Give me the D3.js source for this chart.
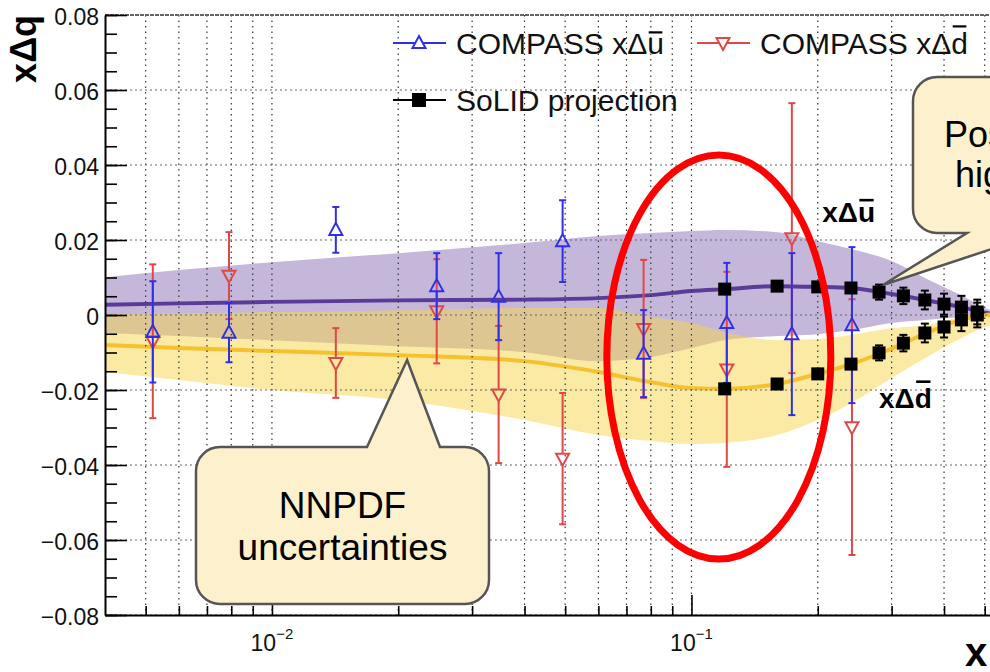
<!DOCTYPE html>
<html>
<head>
<meta charset="utf-8">
<script src="https://cdn.jsdelivr.net/npm/d3@7"></script>
<style>
  html, body { margin: 0; padding: 0; background: #fff; overflow: hidden; }
  svg { display: block; font-family: "Liberation Sans", Arial, Helvetica, sans-serif; }
</style>
</head>
<body>
<div id="chart"></div>
<script>
// NNPDF bands (x grid, central value, upper and lower edge)
const nnX     = [0.004, 0.006, 0.01, 0.02, 0.04, 0.06, 0.08, 0.1, 0.12, 0.16, 0.2, 0.24, 0.3, 0.36, 0.44, 0.52, 0.7];
const ubarMid = [0.0027, 0.0031, 0.0035, 0.0039, 0.0041, 0.0045, 0.0053, 0.0064, 0.0069, 0.0077, 0.0075, 0.0072, 0.0056, 0.0040, 0.0021, 0.0003, -0.0006];
const ubarHi  = [0.0101, 0.0120, 0.0141, 0.0165, 0.0192, 0.0211, 0.0219, 0.0224, 0.0227, 0.0221, 0.0197, 0.0176, 0.0144, 0.0099, 0.0053, 0.0013, 0.0000];
const ubarLo  = [-0.0048, -0.0056, -0.0067, -0.0083, -0.0099, -0.0123, -0.0112, -0.0088, -0.0067, -0.0056, -0.0051, -0.0040, -0.0021, -0.0013, -0.0005, 0.0000, -0.0012];
const dbarMid = [-0.0080, -0.0088, -0.0096, -0.0107, -0.0123, -0.0152, -0.0179, -0.0195, -0.0197, -0.0184, -0.0157, -0.0131, -0.0090, -0.0050, -0.0013, 0.0002, 0.0008];
const dbarHi  = [0.0003, 0.0005, 0.0008, 0.0013, 0.0019, 0.0019, -0.0005, -0.0021, -0.0045, -0.0067, -0.0064, -0.0053, -0.0035, -0.0027, -0.0005, 0.0010, 0.0020];
const dbarLo  = [-0.0152, -0.0173, -0.0200, -0.0227, -0.0280, -0.0320, -0.0336, -0.0344, -0.0341, -0.0320, -0.0280, -0.0235, -0.0168, -0.0115, -0.0061, -0.0027, -0.0010];

// COMPASS points
const cmpX    = [0.0052, 0.0079, 0.0142, 0.0247, 0.0347, 0.0493, 0.0769, 0.1214, 0.1735, 0.2413];
const ubarVal = [-0.0045, -0.0047, 0.0227, 0.0077, 0.0049, 0.0197, -0.0103, -0.0021, -0.0051, -0.0027];
const ubarErr = [0.0135, 0.0079, 0.0061, 0.0088, 0.0116, 0.0109, 0.0116, 0.0160, 0.0216, 0.0208];
const dbarVal = [-0.0070, 0.0105, -0.0128, 0.0010, -0.0212, -0.0383, -0.0037, -0.0145, 0.0205, -0.0299];
const dbarErr = [0.0205, 0.0116, 0.0093, 0.0139, 0.0183, 0.0175, 0.0184, 0.0260, 0.0360, 0.0341];

// SoLID projection
const solidX   = [0.12, 0.16, 0.2, 0.24, 0.28, 0.32, 0.36, 0.40, 0.44, 0.48];
const solidU   = [0.0069, 0.0077, 0.0075, 0.0072, 0.0061, 0.0051, 0.0040, 0.0029, 0.0021, 0.0008];
const solidD   = [-0.0197, -0.0184, -0.0157, -0.0131, -0.0101, -0.0075, -0.0048, -0.0032, -0.0013, 0.0000];
const solidErr = [0.0008, 0.0008, 0.0010, 0.0013, 0.0020, 0.0022, 0.0025, 0.0028, 0.0030, 0.0033];

// ticks
const yTicks = [-0.08, -0.06, -0.04, -0.02, 0, 0.02, 0.04, 0.06, 0.08];
const yTickLabels = ['\u22120.08', '\u22120.06', '\u22120.04', '\u22120.02', '0', '0.02', '0.04', '0.06', '0.08'];
const yMinor = d3.range(-0.08, 0.0801, 0.005);
const xTicks = [0.01, 0.1];
const xTickExp = ['\u22122', '\u22121'];
const xMinor = [0.005, 0.006, 0.007, 0.008, 0.009, 0.02, 0.03, 0.04, 0.05, 0.06, 0.07, 0.08, 0.09, 0.2, 0.3, 0.4, 0.5, 0.6];

const width = 990, height = 672;
const blue = '#2f2fe8', red = '#e04848';

const svg = d3.select('#chart').append('svg')
  .attr('width', width)
  .attr('height', height)
  .attr('viewBox', [0, 0, width, height]);

const x = d3.scaleLog().domain([0.004, 0.7]).range([105, 1046]);
const y = d3.scaleLinear().domain([-0.08, 0.08]).range([615, 15]);

svg.append('clipPath').attr('id', 'plot')
  .append('rect').attr('x', 105).attr('y', 15).attr('width', 941).attr('height', 600);

const plot = svg.append('g').attr('clip-path', 'url(#plot)');

// bands
const band = (lo, hi) => d3.area()
  .x((d, i) => x(nnX[i]))
  .y0((d, i) => y(lo[i]))
  .y1((d, i) => y(hi[i]))
  .curve(d3.curveMonotoneX)(nnX);
const centre = vals => d3.line()
  .x((d, i) => x(nnX[i]))
  .y((d, i) => y(vals[i]))
  .curve(d3.curveMonotoneX)(nnX);

plot.append('path').attr('d', band(ubarLo, ubarHi)).attr('fill', '#c4b7da');
plot.append('path').attr('d', band(dbarLo, dbarHi)).attr('fill', 'rgb(246,214,72)').attr('fill-opacity', 0.5);
plot.append('path').attr('d', centre(ubarMid)).attr('fill', 'none').attr('stroke', '#5b3b98').attr('stroke-width', 4);
plot.append('path').attr('d', centre(dbarMid)).attr('fill', 'none').attr('stroke', '#f6c12e').attr('stroke-width', 4);

// grid
plot.selectAll('.vgrid')
  .data(xTicks.concat(xMinor))
  .enter().append('line')
  .attr('x1', d => x(d)).attr('x2', d => x(d))
  .attr('y1', 15).attr('y2', 615)
  .attr('stroke', '#333').attr('stroke-width', 1.2).attr('stroke-dasharray', '1.5,4');
plot.selectAll('.hgrid')
  .data(yTicks)
  .enter().append('line')
  .attr('x1', 105).attr('x2', 1046)
  .attr('y1', d => y(d)).attr('y2', d => y(d))
  .attr('stroke', '#666').attr('stroke-width', 1.2).attr('stroke-dasharray', '2,3');
svg.append('line').attr('x1', 105).attr('x2', width).attr('y1', 15).attr('y2', 15)
  .attr('stroke', '#666').attr('stroke-width', 2).attr('stroke-dasharray', '4,1');

// axes
const yAxis = svg.append('g').attr('transform', 'translate(105,0)')
  .call(d3.axisLeft(y).tickValues(yTicks).tickSizeInner(-22).tickSizeOuter(0).tickPadding(6)
    .tickFormat((d, i) => yTickLabels[i]));
svg.append('g').attr('transform', 'translate(105,0)')
  .call(d3.axisLeft(y).tickValues(yMinor).tickSizeInner(-12).tickSizeOuter(0).tickFormat(''))
  .select('.domain').remove();
yAxis.selectAll('text').attr('font-size', 23).attr('font-family', 'Liberation Sans, Arial, sans-serif')
  .attr('dy', '0.42em').attr('fill', '#111');

svg.append('g').attr('transform', 'translate(0,615)')
  .call(d3.axisBottom(x).tickValues(xTicks).tickSizeInner(-20).tickSizeOuter(0).tickFormat(''));
svg.append('g').attr('transform', 'translate(0,615)')
  .call(d3.axisBottom(x).tickValues(xMinor).tickSizeInner(-9).tickSizeOuter(0).tickFormat(''))
  .select('.domain').remove();
svg.selectAll('.domain').attr('stroke', '#000').attr('stroke-width', 2);
svg.selectAll('.tick line').attr('stroke', '#000').attr('stroke-width', 1.6);

const xLab = svg.selectAll('.xlab')
  .data(xTicks)
  .enter().append('text')
  .attr('x', d => x(d))
  .attr('y', 651)
  .attr('text-anchor', 'middle')
  .attr('font-size', 23)
  .attr('fill', '#111');
xLab.append('tspan').text('10');
xLab.append('tspan').attr('font-size', 15).attr('dy', -12).text((d, i) => xTickExp[i]);

// axis titles
svg.append('text')
  .attr('transform', 'translate(36,15) rotate(-90)')
  .attr('text-anchor', 'end')
  .attr('font-size', 36).attr('font-weight', 'bold')
  .text('x\u0394q');
svg.append('text')
  .attr('x', 965).attr('y', 666)
  .attr('font-size', 40).attr('font-weight', 'bold')
  .text('x');

// COMPASS points
const upTri = 'M0,-7L6.5,5L-6.5,5Z';
const downTri = 'M0,7L6.5,-5L-6.5,-5Z';

function drawCompass(vals, errs, color, shape, top, bottom) {
  const g = plot.append('g');
  cmpX.forEach((xv, i) => {
    const cx = x(xv), cy = y(vals[i]);
    const y1 = y(vals[i] + errs[i]), y2 = y(vals[i] - errs[i]);
    g.append('line').attr('x1', cx).attr('x2', cx).attr('y1', y1).attr('y2', cy - top)
      .attr('stroke', color).attr('stroke-width', 2);
    g.append('line').attr('x1', cx).attr('x2', cx).attr('y1', cy + bottom).attr('y2', y2)
      .attr('stroke', color).attr('stroke-width', 2);
    [y1, y2].forEach(yy => g.append('line')
      .attr('x1', cx - 3.5).attr('x2', cx + 3.5).attr('y1', yy).attr('y2', yy)
      .attr('stroke', color).attr('stroke-width', 2));
    g.append('path').attr('d', shape).attr('transform', `translate(${cx},${cy})`)
      .attr('fill', 'none').attr('stroke', color).attr('stroke-width', 2);
  });
}
drawCompass(dbarVal, dbarErr, red, downTri, 5, 7);
drawCompass(ubarVal, ubarErr, blue, upTri, 7, 5);

// SoLID projection
[solidU, solidD].forEach(vals => {
  const g = plot.append('g');
  solidX.forEach((xv, i) => {
    const cx = x(xv);
    const y1 = y(vals[i] + solidErr[i]), y2 = y(vals[i] - solidErr[i]);
    g.append('line').attr('x1', cx).attr('x2', cx).attr('y1', y1).attr('y2', y2)
      .attr('stroke', '#000').attr('stroke-width', 2);
    [y1, y2].forEach(yy => g.append('line')
      .attr('x1', cx - 4).attr('x2', cx + 4).attr('y1', yy).attr('y2', yy)
      .attr('stroke', '#000').attr('stroke-width', 2));
  });
  g.selectAll('rect').data(solidX).enter().append('rect')
    .attr('x', d => x(d) - 6.5)
    .attr('y', (d, i) => y(vals[i]) - 6.5)
    .attr('width', 13).attr('height', 13)
    .attr('fill', '#000');
});

// overline helper for the antiquark symbols
function overline(textSel, idx, em, weight) {
  const ext = textSel.node().getExtentOfChar(idx);
  const fs = +textSel.attr('font-size');
  const yy = +textSel.attr('y') - em * fs;
  svg.append('line')
    .attr('x1', ext.x + fs * 0.05).attr('x2', ext.x + ext.width - fs * 0.05)
    .attr('y1', yy).attr('y2', yy)
    .attr('stroke', '#000').attr('stroke-width', weight);
}

// legend
const legend = [
  { lx: 393, ly: 43, color: blue, shape: upTri, label: 'COMPASS x\u0394u', bar: 0.72 },
  { lx: 697, ly: 43, color: red, shape: downTri, label: 'COMPASS x\u0394d', bar: 0.92 },
  { lx: 393, ly: 100, color: '#000', shape: null, label: 'SoLID projection', bar: 0 }
];
legend.forEach(d => {
  svg.append('line').attr('x1', d.lx).attr('x2', d.lx + 53).attr('y1', d.ly).attr('y2', d.ly)
    .attr('stroke', d.color).attr('stroke-width', 2);
  if (d.shape) {
    svg.append('path').attr('d', d.shape).attr('transform', `translate(${d.lx + 26},${d.ly})`)
      .attr('fill', '#fff').attr('stroke', d.color).attr('stroke-width', 2);
  } else {
    svg.append('rect').attr('x', d.lx + 19).attr('y', d.ly - 7).attr('width', 14).attr('height', 14).attr('fill', '#000');
  }
  const t = svg.append('text').attr('x', d.lx + 63).attr('y', d.ly + 11)
    .attr('font-size', 30).attr('fill', '#111').text(d.label);
  if (d.bar) overline(t, d.label.length - 1, d.bar, 2.2);
});

// curve labels
const labU = svg.append('text').attr('x', x(0.205)).attr('y', 222)
  .attr('font-size', 28).attr('font-weight', 'bold').text('x\u0394u');
overline(labU, 2, 0.78, 2.6);
const labD = svg.append('text').attr('x', x(0.28)).attr('y', 408)
  .attr('font-size', 28).attr('font-weight', 'bold').text('x\u0394d');
overline(labD, 2, 0.94, 2.6);

// red ellipse
svg.append('ellipse')
  .attr('cx', x(0.1162)).attr('cy', y(-0.0112))
  .attr('rx', 112).attr('ry', 202)
  .attr('fill', 'none').attr('stroke', '#ff0000').attr('stroke-width', 7);

// callouts
function calloutPath(x0, y0, x1, y1, r, edge, b0, b1, ax, ay) {
  const p = d3.path();
  p.moveTo(x0 + r, y0);
  if (edge === 'top') { p.lineTo(b0, y0); p.lineTo(ax, ay); p.lineTo(b1, y0); }
  p.lineTo(x1 - r, y0);
  p.arcTo(x1, y0, x1, y0 + r, r);
  p.lineTo(x1, y1 - r);
  p.arcTo(x1, y1, x1 - r, y1, r);
  if (edge === 'bottom') { p.lineTo(b1, y1); p.lineTo(ax, ay); p.lineTo(b0, y1); }
  p.lineTo(x0 + r, y1);
  p.arcTo(x0, y1, x0, y1 - r, r);
  p.lineTo(x0, y0 + r);
  p.arcTo(x0, y0, x0 + r, y0, r);
  p.closePath();
  return p.toString();
}
const calloutFill = '#fdf0cc', calloutStroke = '#555';

svg.append('path')
  .attr('d', calloutPath(196, 447, 489, 604, 24, 'top', 367, 440, x(0.021), y(-0.012)))
  .attr('fill', calloutFill).attr('stroke', calloutStroke).attr('stroke-width', 2.5);
svg.append('text').attr('x', 342.5).attr('y', 518).attr('text-anchor', 'middle')
  .attr('font-size', 37).text('NNPDF');
svg.append('text').attr('x', 342.5).attr('y', 560).attr('text-anchor', 'middle')
  .attr('font-size', 37).text('uncertainties');

svg.append('path')
  .attr('d', calloutPath(913, 77, 1160, 233, 24, 'bottom', 967, 1040, x(0.286), y(0.008)))
  .attr('fill', calloutFill).attr('stroke', calloutStroke).attr('stroke-width', 2.5);
svg.append('text').attr('x', 944).attr('y', 147).attr('font-size', 36).text('Positivity at');
svg.append('text').attr('x', 955).attr('y', 187).attr('font-size', 36).text('high x');
</script>
</body>
</html>
